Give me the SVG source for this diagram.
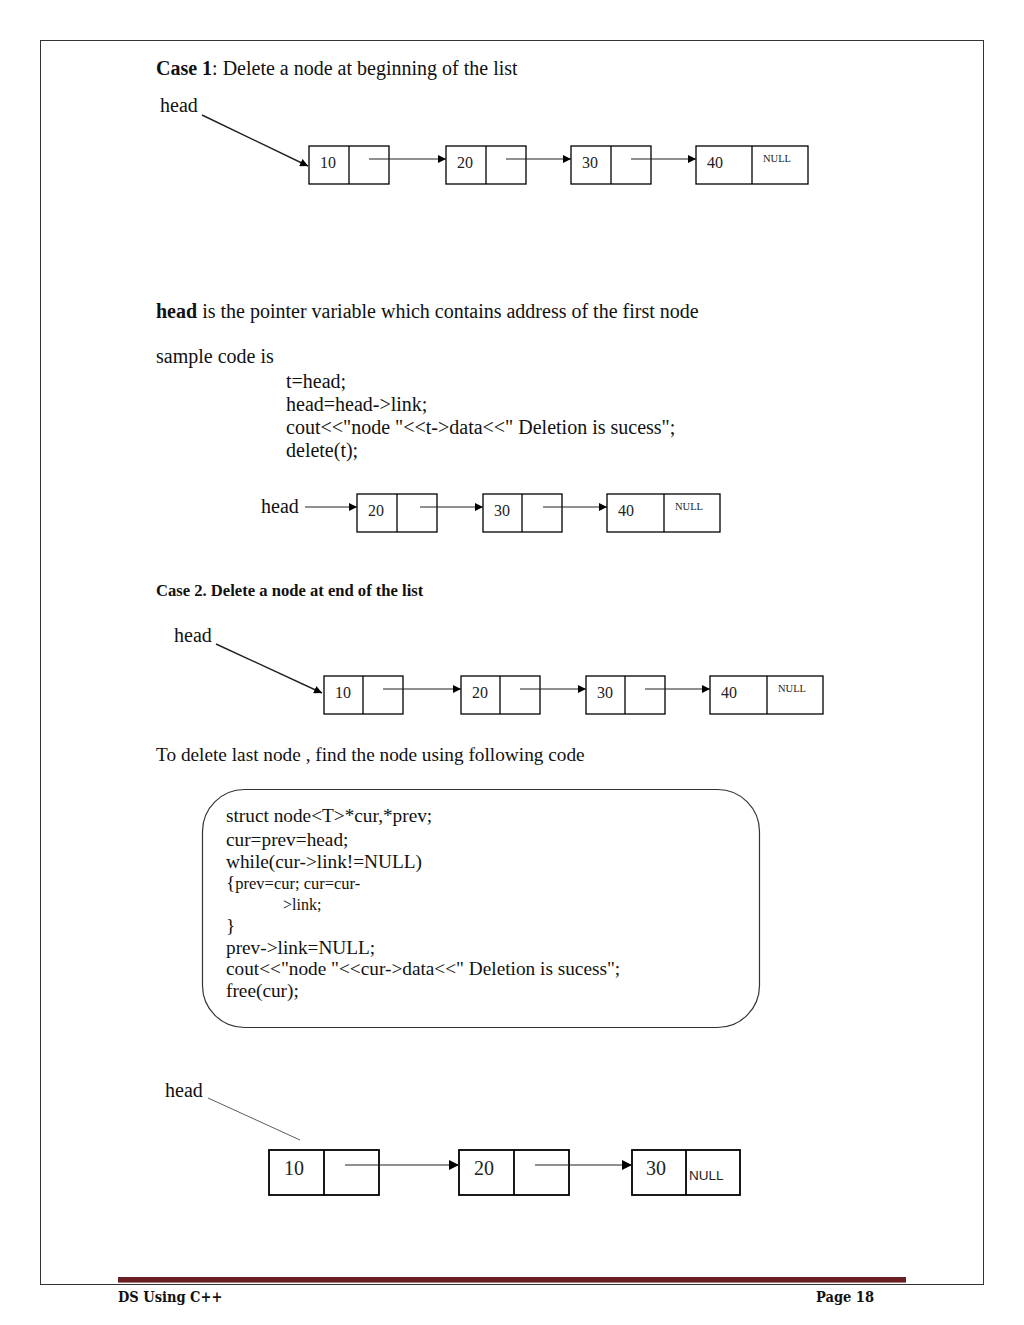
<svg xmlns="http://www.w3.org/2000/svg" width="1024" height="1325" viewBox="0 0 1024 1325">
<defs>
<marker id="ah" viewBox="0 0 10 10" refX="10" refY="5" markerWidth="8" markerHeight="8" markerUnits="userSpaceOnUse" orient="auto"><path d="M0,0 L10,5 L0,10 z" fill="#000"/></marker>
<marker id="ah2" viewBox="0 0 10 10" refX="10" refY="5" markerWidth="10" markerHeight="10" markerUnits="userSpaceOnUse" orient="auto"><path d="M0,0 L10,5 L0,10 z" fill="#000"/></marker>
<style>
.t{font-family:"Liberation Serif","Times New Roman",serif;font-size:20px;fill:#111}
.cd{font-family:"Liberation Serif","Times New Roman",serif;font-size:19.3px;fill:#111}
.b{font-weight:bold}
.n{font-family:"Liberation Serif","Times New Roman",serif;font-size:16px;fill:#222}
.nl{font-family:"Liberation Serif","Times New Roman",serif;font-size:10.5px;fill:#222}
.n2{font-family:"Liberation Serif","Times New Roman",serif;font-size:20px;fill:#222}
.box{fill:#fff;stroke:#000;stroke-width:1.3}
.div{stroke:#000;stroke-width:1.3}
.c{stroke:#222;stroke-width:1.1;fill:none;marker-end:url(#ah)}
.f{font-family:"DejaVu Serif Condensed","Liberation Serif",serif;font-size:14.5px;font-weight:bold;fill:#111}
</style>
</defs>
<rect x="40.5" y="40.5" width="943" height="1244" fill="#fff" stroke="#333" stroke-width="1"/>
<rect x="118" y="1277" width="788" height="5" fill="#6b1f22"/>
<line x1="118" y1="1282.5" x2="906" y2="1282.5" stroke="#a08080" stroke-width="1"/>

<text class="t" x="156" y="75"><tspan class="b">Case 1</tspan>: Delete a node at beginning of the list</text>
<text class="t" x="160" y="112">head</text>

<g id="c1n1"><rect class="box" x="309" y="146" width="80" height="38"/><line class="div" x1="349" y1="146" x2="349" y2="184"/><text class="n" x="320" y="168">10</text></g>
<g id="c1n2"><rect class="box" x="446" y="146" width="80" height="38"/><line class="div" x1="486" y1="146" x2="486" y2="184"/><text class="n" x="457" y="168">20</text></g>
<g id="c1n3"><rect class="box" x="571" y="146" width="80" height="38"/><line class="div" x1="611" y1="146" x2="611" y2="184"/><text class="n" x="582" y="168">30</text></g>
<g id="c1n4"><rect class="box" x="696" y="146" width="112" height="38"/><line class="div" x1="752" y1="146" x2="752" y2="184"/><text class="n" x="707" y="168">40</text><text class="nl" x="763" y="162">NULL</text></g>

<text class="t" x="156" y="318"><tspan class="b">head</tspan> is the pointer variable which contains address of the first node</text>
<text class="t" x="156" y="363">sample code is</text>
<text class="t" x="286" y="388">t=head;</text>
<text class="t" x="286" y="411">head=head-&gt;link;</text>
<text class="t" x="286" y="434">cout&lt;&lt;"node "&lt;&lt;t-&gt;data&lt;&lt;" Deletion is sucess";</text>
<text class="t" x="286" y="457">delete(t);</text>

<text class="t" x="261" y="513">head</text>
<g id="c1an1"><rect class="box" x="357" y="494" width="80" height="38"/><line class="div" x1="397" y1="494" x2="397" y2="532"/><text class="n" x="368" y="516">20</text></g>
<g id="c1an2"><rect class="box" x="483" y="494" width="79" height="38"/><line class="div" x1="522" y1="494" x2="522" y2="532"/><text class="n" x="494" y="516">30</text></g>
<g id="c1an3"><rect class="box" x="607" y="494" width="113" height="38"/><line class="div" x1="664" y1="494" x2="664" y2="532"/><text class="n" x="618" y="516">40</text><text class="nl" x="675" y="510">NULL</text></g>

<text class="t b" x="156" y="596" style="font-size:16.6px">Case 2. Delete a node at end of the list</text>

<text class="t" x="174" y="642">head</text>
<g id="c2n1"><rect class="box" x="324" y="676" width="79" height="38"/><line class="div" x1="363" y1="676" x2="363" y2="714"/><text class="n" x="335" y="698">10</text></g>
<g id="c2n2"><rect class="box" x="461" y="676" width="79" height="38"/><line class="div" x1="500" y1="676" x2="500" y2="714"/><text class="n" x="472" y="698">20</text></g>
<g id="c2n3"><rect class="box" x="586" y="676" width="79" height="38"/><line class="div" x1="625" y1="676" x2="625" y2="714"/><text class="n" x="597" y="698">30</text></g>
<g id="c2n4"><rect class="box" x="710" y="676" width="113" height="38"/><line class="div" x1="767" y1="676" x2="767" y2="714"/><text class="n" x="721" y="698">40</text><text class="nl" x="778" y="692">NULL</text></g>

<text class="cd" x="156" y="761">To delete last node , find the node using following code</text>

<g id="code"><rect x="202.5" y="789.5" width="557" height="238" rx="42" ry="42" fill="#fff" stroke="#333" stroke-width="1.2"/>
<text class="cd" x="226" y="822">struct node&lt;T&gt;*cur,*prev;</text>
<text class="cd" x="226" y="846">cur=prev=head;</text>
<text class="cd" x="226" y="868">while(cur-&gt;link!=NULL)</text>
<text class="cd" x="226" y="889">{<tspan style="font-size:16.5px">prev=cur; cur=cur-</tspan></text>
<text class="cd" x="283" y="910" style="font-size:16px">&gt;link;</text>
<text class="cd" x="226" y="932">}</text>
<text class="cd" x="226" y="954">prev-&gt;link=NULL;</text>
<text class="cd" x="226" y="975">cout&lt;&lt;"node "&lt;&lt;cur-&gt;data&lt;&lt;" Deletion is sucess";</text>
<text class="cd" x="226" y="997">free(cur);</text>
</g>

<text class="t" x="165" y="1097">head</text>
<g id="c3n1"><rect class="box" x="269" y="1150" width="110" height="45" style="stroke-width:1.8"/><line class="div" x1="324" y1="1150" x2="324" y2="1195" style="stroke-width:1.8"/><text class="n2" x="284" y="1175">10</text></g>
<g id="c3n2"><rect class="box" x="459" y="1150" width="110" height="45" style="stroke-width:1.8"/><line class="div" x1="514" y1="1150" x2="514" y2="1195" style="stroke-width:1.8"/><text class="n2" x="474" y="1175">20</text></g>
<g id="c3n3"><rect class="box" x="632" y="1150" width="108" height="45" style="stroke-width:1.8"/><line class="div" x1="686" y1="1150" x2="686" y2="1195" style="stroke-width:1.8"/><text class="n2" x="646" y="1175">30</text><text x="689" y="1180" style="font-family:'Liberation Sans',Arial,sans-serif;font-size:13.5px;fill:#222">NULL</text></g>

<g id="connectors">
<line class="c" x1="202" y1="115" x2="308" y2="166" style="stroke-width:1.4"/>
<line class="c" x1="369" y1="159" x2="446" y2="159"/>
<line class="c" x1="506" y1="159" x2="571" y2="159"/>
<line class="c" x1="631" y1="159" x2="696" y2="159"/>
<line class="c" x1="305" y1="507" x2="357" y2="507"/>
<line class="c" x1="420" y1="507" x2="483" y2="507"/>
<line class="c" x1="543" y1="507" x2="607" y2="507"/>
<line class="c" x1="216" y1="644" x2="322" y2="693" style="stroke-width:1.4"/>
<line class="c" x1="383" y1="689" x2="461" y2="689"/>
<line class="c" x1="520" y1="689" x2="586" y2="689"/>
<line class="c" x1="645" y1="689" x2="710" y2="689"/>
<line x1="208" y1="1098" x2="300" y2="1140" stroke="#333" stroke-width="0.8"/>
<line class="c" x1="345" y1="1165" x2="459" y2="1165" style="marker-end:url(#ah2)"/>
<line class="c" x1="535" y1="1165" x2="632" y2="1165" style="marker-end:url(#ah2)"/>
</g>

<text class="f" x="118" y="1302">DS Using C++</text>
<text class="f" x="816" y="1302">Page 18</text>
</svg>
